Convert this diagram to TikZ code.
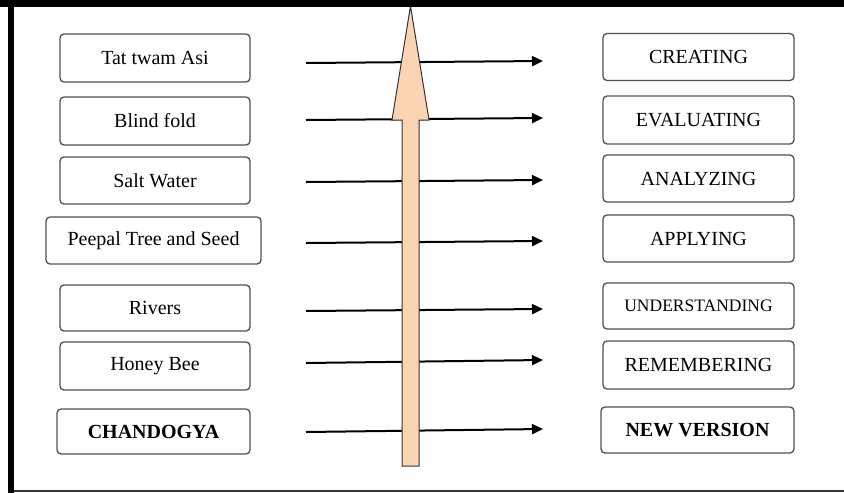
\documentclass[tikz,border=0pt]{standalone}
\usepackage{fontspec}
\setmainfont{Liberation Serif}
\usetikzlibrary{arrows.meta}
\definecolor{peach}{HTML}{FBD4B4}
\definecolor{boxline}{HTML}{505050}
\begin{document}
\begin{tikzpicture}[x=1pt,y=-1pt,
  itembox/.style={draw=boxline,line width=1.3pt,rounded corners=4pt,fill=white,
    inner sep=0pt,font=\fontsize{20}{22}\selectfont,text=black},
  flow/.style={line width=2pt,-{Triangle[length=11pt,width=10pt]}}]
\useasboundingbox (0,0) rectangle (844,493);
\fill[white] (0,0) rectangle (844,493);
% frame
\draw[line width=1.5pt,black!80] (14,491) -- (844,491);
\fill[black] (8,0) rectangle (14,493);
% left boxes
\node[itembox,minimum width=190pt,minimum height=48pt] (l1) at (155,58) {Tat twam Asi};
\node[itembox,minimum width=190pt,minimum height=48pt] (l2) at (155,121) {Blind fold};
\node[itembox,minimum width=190pt,minimum height=47pt] (l3) at (155,180.5) {Salt Water};
\node[itembox,minimum width=215pt,minimum height=47pt] (l4) at (153.5,240.5) {Peepal Tree and Seed};
\node[itembox,minimum width=190pt,minimum height=46pt] (l5) at (155,308) {Rivers};
\node[itembox,minimum width=190pt,minimum height=48pt] (l6) at (155,366) {Honey Bee};
\node[itembox,minimum width=193pt,minimum height=45pt] (l7) at (153.5,431.5) {\bfseries CHANDOGYA};
% right boxes
\node[itembox,minimum width=191pt,minimum height=47pt] (r1) at (698.5,57) {CREATING};
\node[itembox,minimum width=191pt,minimum height=48pt] (r2) at (698.5,120) {EVALUATING};
\node[itembox,minimum width=191pt,minimum height=47pt] (r3) at (698.5,178.5) {ANALYZING};
\node[itembox,minimum width=191pt,minimum height=47pt] (r4) at (698.5,238.5) {APPLYING};
\node[itembox,minimum width=191pt,minimum height=46pt,font=\fontsize{17.5}{20}\selectfont] (r5) at (698.5,306) {UNDERSTANDING};
\node[itembox,minimum width=191pt,minimum height=48pt] (r6) at (698.5,365) {REMEMBERING};
\node[itembox,minimum width=193pt,minimum height=46pt] (r7) at (697.5,430) {\bfseries NEW VERSION};
% arrow end points
\coordinate (s1) at (306,63);  \coordinate (e1) at (543,61);
\coordinate (s2) at (306,120); \coordinate (e2) at (543,118);
\coordinate (s3) at (306,182); \coordinate (e3) at (543,180);
\coordinate (s4) at (306,243); \coordinate (e4) at (543,241);
\coordinate (s5) at (306,311); \coordinate (e5) at (543,309);
\coordinate (s6) at (306,363); \coordinate (e6) at (543,360);
\coordinate (s7) at (306,432); \coordinate (e7) at (543,429);
\foreach \i in {1,...,7} \draw[flow] (s\i) -- (e\i);
% big upward arrow
\draw[fill=peach,draw=black!80,line width=1pt,line join=miter]
  (402,466) -- (402,120) -- (392,120) -- (410.5,6) -- (429,120) -- (419,120) -- (419,466) -- cycle;
% top bar
\fill[black] (0,0) rectangle (844,7);
\end{tikzpicture}
\end{document}
